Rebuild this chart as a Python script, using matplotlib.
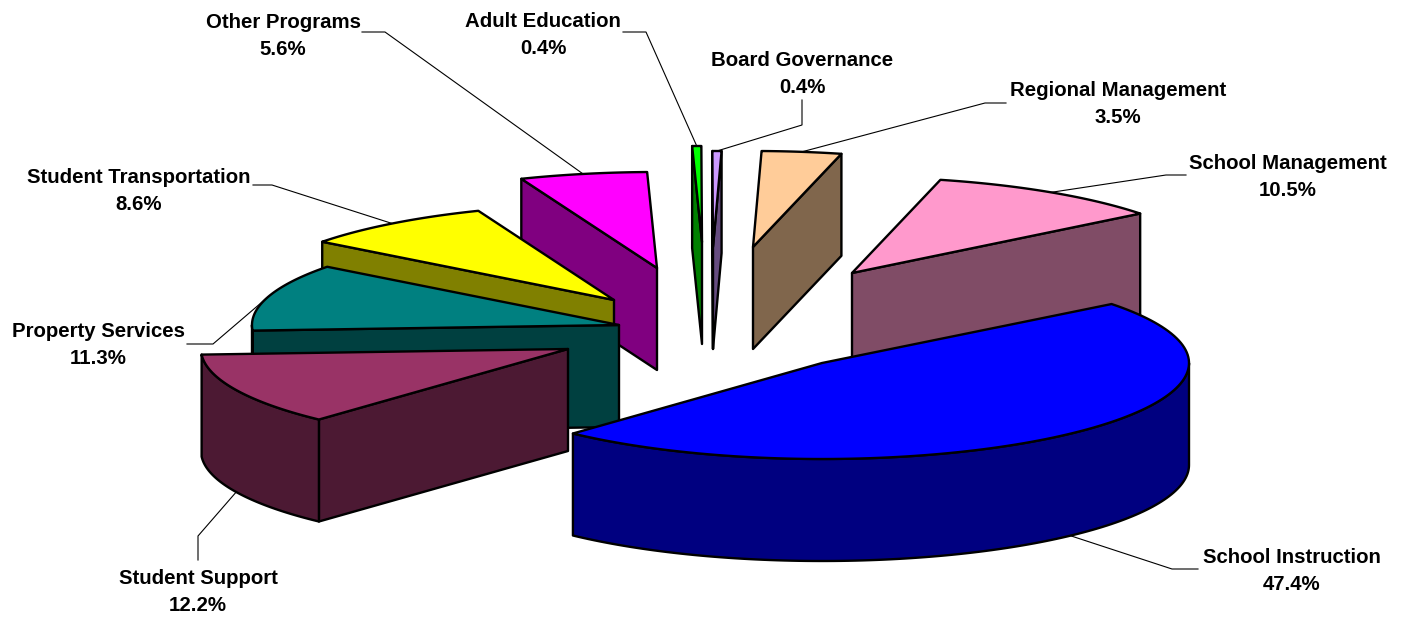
import numpy as np
import matplotlib
matplotlib.use('Agg')
import matplotlib.pyplot as plt
from matplotlib.patches import Polygon

names = ['School Instruction', 'Student Support', 'Property Services',
         'Student Transportation', 'Other Programs', 'Adult Education',
         'Board Governance', 'Regional Management', 'School Management']
shares = [47.4, 12.2, 11.3, 8.6, 5.6, 0.4, 0.4, 3.5, 10.5]
top_colors = ['#0000FF', '#993366', '#008080', '#FFFF00', '#FF00FF',
              '#00FF00', '#CC99FF', '#FFCC99', '#FF99CC']
side_colors = ['#000080', '#4C1933', '#004040', '#808000', '#800080',
               '#008000', '#664C80', '#80664C', '#804C66']

# pixel layout of the tilted pie
CENTER = (822, 363)
RX, RY = 367, 96
DEPTH = 102
START = 37.9
LW = 1.7

# how far each slice is pulled out of the pie (right, up)
explode = [(0, 0), (-254, 14), (-203, 38), (-208, 63), (-165, 95),
           (-120, 121), (-109, 116), (-69, 116), (30, 90)]
# knee and end of the leader lines
leaders = [((1172, 569), (1198, 569)), ((198, 536), (198, 560)),
           ((213, 344), (187, 344)), ((272, 185), (253, 185)),
           ((385, 32), (362, 32)), ((646, 32), (623, 32)),
           ((802, 125), (802, 100)), ((985, 103), (1006, 103)),
           ((1166, 175), (1186, 175))]
# centre of each two-line label
label_pos = [(1292, 571), (198, 592), (98, 345), (139, 191), (283, 36),
             (543, 35), (802, 74), (1118, 104), (1288, 177)]
# back slices first so the front ones overlap them
draw_order = [4, 5, 6, 7, 8, 3, 2, 1, 0]


def rim(apex, deg):
    t = np.radians(deg)
    return apex[0] + RX * np.cos(t), apex[1] - RY * np.sin(t)


def sweep(apex, a0, a1):
    t = np.linspace(a0, a1, 120)
    return np.column_stack(rim(apex, t))


def wall_faces_front(apex, corner, other):
    # the cut face shows when the rest of the slice lies above its top edge
    dx, dy = corner[0] - apex[0], corner[1] - apex[1]
    if dx == 0:
        return False
    return apex[1] + dy / dx * (other[0] - apex[0]) > other[1]


def face(ax, pts, color, z):
    ax.add_patch(Polygon(pts, closed=True, facecolor=color, edgecolor='k',
                         linewidth=LW, joinstyle='round', zorder=z))


def draw_slice(ax, apex, a_hi, a_lo, top, side, z):
    hi, lo = rim(apex, a_hi), rim(apex, a_lo)
    drop = np.array([0, DEPTH])
    for corner, other in ((hi, lo), (lo, hi)):
        if wall_faces_front(apex, corner, other):
            quad = np.array([apex, corner])
            face(ax, np.vstack([quad, quad[::-1] + drop]), side, z)
    # outer skin only exists on the near half of the ellipse
    a_start, a_end = a_lo % 360, a_hi % 360
    if a_end <= a_start:
        a_end += 360
    near_lo, near_hi = max(a_start, 180), min(a_end, 360)
    if near_hi > near_lo:
        arc = sweep(apex, near_lo, near_hi)
        face(ax, np.vstack([arc, arc[::-1] + drop]), side, z)
    face(ax, np.vstack([[apex], sweep(apex, a_hi, a_lo)]), top, z + 0.5)


fig = plt.figure(figsize=(14.08, 6.17), dpi=100)
ax = fig.add_axes([0, 0, 1, 1])
ax.set_xlim(0, 1408)
ax.set_ylim(617, 0)
ax.axis('off')

edges = START - np.cumsum([0] + shares) * 3.6
apexes = [(CENTER[0] + ox, CENTER[1] - oy) for ox, oy in explode]

for z, i in enumerate(draw_order):
    draw_slice(ax, apexes[i], edges[i], edges[i + 1], top_colors[i],
               side_colors[i], z * 2 + 1)

for i, name in enumerate(names):
    mid = (edges[i] + edges[i + 1]) / 2
    x0, y0 = rim(apexes[i], mid)
    if np.sin(np.radians(mid)) < 0:
        y0 += DEPTH
    knee, end = leaders[i]
    ax.plot([x0, knee[0], end[0]], [y0, knee[1], end[1]], color='k', lw=0.8,
            solid_joinstyle='miter', zorder=0.5)
    ax.text(label_pos[i][0], label_pos[i][1], f'{name}\n{shares[i]:.1f}%',
            ha='center', va='center', ma='center', fontsize=14.7,
            fontweight='bold', family='Liberation Sans', linespacing=1.5)

fig.savefig('out.png', dpi=100)
